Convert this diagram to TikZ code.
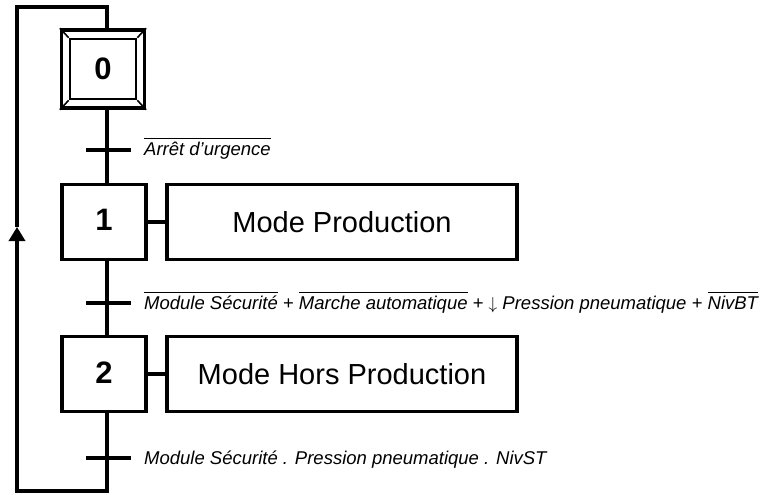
\documentclass[tikz,border=0pt]{standalone}
\usepackage{fontspec}
\setmainfont{Liberation Sans}
\usetikzlibrary{arrows.meta}

\newcommand{\barre}[1]{\vbox{\hrule height 1.2pt\kern 2.6pt\hbox{#1}}}

\tikzset{
	etape/.style={draw,line width=3.4pt,inner sep=0pt,minimum width=84pt,minimum height=75pt,font=\fontsize{31}{36}\selectfont\bfseries},
	action/.style={draw,line width=3.4pt,minimum width=350pt,minimum height=75pt,font=\fontsize{29}{34}\selectfont},
	recept/.style={anchor=base west,inner sep=0pt,font=\fontsize{18.5}{22}\selectfont\itshape},
	liaison/.style={line width=3.4pt},
	coin/.style={line width=1.6pt}
}

\begin{document}
\begin{tikzpicture}[x=1pt,y=-1pt]
	\useasboundingbox (0,0) rectangle (771,495);

	\node[etape,minimum width=83pt,minimum height=78pt] (e0) at (103,69) {};
	\node[etape,line width=2.6pt,minimum width=66pt,minimum height=60pt] (e0in) at (103,69) {0};
	\foreach \c in {north west,north east,south west,south east}
		\draw[coin] (e0.\c) -- (e0in.\c);

	\node[etape] (e1) at (104,222) {\raisebox{4pt}{1}};
	\node[action] (a1) at (342,222) {Mode Production};
	\node[etape] (e2) at (104,374) {\raisebox{3pt}{2}};
	\node[action] (a2) at (342,374) {Mode Hors Production};

	\coordinate (t0) at (107,150);
	\coordinate (t1) at (107,303);
	\coordinate (t2) at (107,458);

	\draw[liaison] (e0.south -| t0) -- (e1.north -| t0);
	\draw[liaison] (e1.south -| t1) -- (e2.north -| t1);
	\draw[liaison] (e1.east) -- (a1.west);
	\draw[liaison] (e2.east) -- (a2.west);

	\foreach \t in {t0,t1,t2}
		\draw[liaison] ([xshift=-21pt]\t) -- ([xshift=24pt]\t);

	\node[recept] (r0) at (144,155) {\barre{Arrêt d’urgence}};
	\node[recept] (r1) at (144,309) {\barre{Module Sécurité} + \barre{Marche automatique} + $\downarrow$ Pression pneumatique + \barre{NivBT}};
	\node[recept] (r2) at (144,464) {Module Sécurité . Pression pneumatique . NivST};

	\coordinate (bas) at (107,491);
	\coordinate (bg) at (17,491);
	\coordinate (fl) at (17,227);
	\coordinate (hg) at (17,7);
	\coordinate (haut) at (107,7);
	\draw[liaison,-{Triangle[width=16pt,length=14pt]}] (e2.south -| t2) -- (bas) -- (bg) -- (fl);
	\draw[liaison] (fl) -- (hg) -- (haut) -- (e0.north -| t0);

\end{tikzpicture}
\end{document}
